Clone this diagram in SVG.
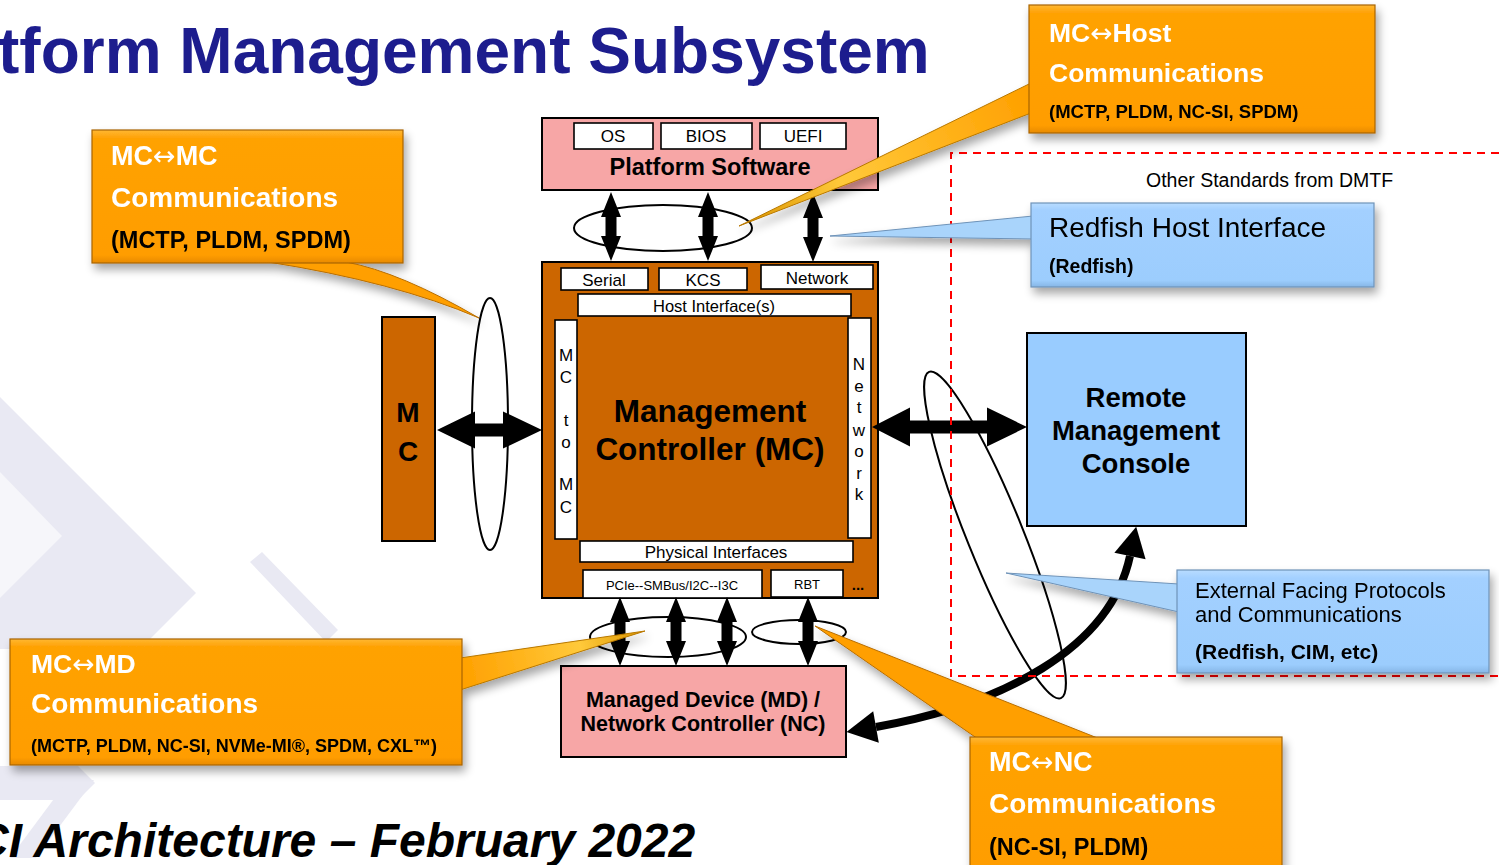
<svg xmlns="http://www.w3.org/2000/svg" width="1499" height="865" viewBox="0 0 1499 865">
  <defs>
    <style>
      text { font-family: "Liberation Sans", Arial, Helvetica, sans-serif; fill: #000; }
      .b { font-weight: bold; }
      .c { text-anchor: middle; }
      .edge { stroke: #000; stroke-width: 2; }
      .pink { fill: #f7a6a6; }
      .rust { fill: #cc6600; }
      .slot { fill: #fff; stroke: #000; stroke-width: 1.6; }
      .ring { fill: none; stroke: #000; stroke-width: 2; }
      .ringw { fill: #fff; stroke: #000; stroke-width: 2; }
      .arr { fill: #000; }
      .obox { fill: url(#orangeFill); stroke: #a86400; stroke-width: 1.2; }
      .otail { fill: #ff9f00; stroke: #b86e00; stroke-width: 1; }
      .bbox { fill: url(#blueFill); stroke: #6f93b8; stroke-width: 1.2; }
      .btail { fill: #a9d4fb; stroke: #6f93b8; stroke-width: 1; }
      .hw { fill: #fff; font-weight: bold; }
      .hk { font-weight: bold; }
      .thin { font-weight: normal; font-family: "DejaVu Sans", sans-serif; }
      .wm { fill: #e9e9f3; }
    </style>
    <linearGradient id="orangeFill" x1="0" y1="0" x2="0" y2="1">
      <stop offset="0" stop-color="#ffb833"/>
      <stop offset="0.06" stop-color="#ffa206"/>
      <stop offset="0.94" stop-color="#ff9d00"/>
      <stop offset="1" stop-color="#e88a00"/>
    </linearGradient>
    <linearGradient id="blueFill" x1="0" y1="0" x2="0" y2="1">
      <stop offset="0" stop-color="#b8dcff"/>
      <stop offset="0.08" stop-color="#a3d0ff"/>
      <stop offset="0.92" stop-color="#9ccdfd"/>
      <stop offset="1" stop-color="#86b6e6"/>
    </linearGradient>
    <linearGradient id="goldHost" gradientUnits="userSpaceOnUse" x1="740" y1="226" x2="1030" y2="98">
      <stop offset="0" stop-color="#d99400"/>
      <stop offset="0.35" stop-color="#ffc93a"/>
      <stop offset="1" stop-color="#ffa000"/>
    </linearGradient>
    <linearGradient id="goldMd" gradientUnits="userSpaceOnUse" x1="645" y1="631" x2="461" y2="674">
      <stop offset="0" stop-color="#d99400"/>
      <stop offset="0.35" stop-color="#ffc93a"/>
      <stop offset="1" stop-color="#ffa000"/>
    </linearGradient>
    <filter id="shadow" x="-15%" y="-15%" width="135%" height="150%">
      <feGaussianBlur in="SourceAlpha" stdDeviation="5"/>
      <feOffset dx="3" dy="6"/>
      <feComponentTransfer><feFuncA type="linear" slope="0.35"/></feComponentTransfer>
      <feMerge><feMergeNode/><feMergeNode in="SourceGraphic"/></feMerge>
    </filter>
    <!-- vertical two-headed arrow, top tip at origin -->
    <path id="vArrow" d="M0,0 L10,25 L5.5,25 L5.5,44 L10,44 L0,69 L-10,44 L-5.5,44 L-5.5,25 L-10,25 Z"/>
  </defs>

  <rect width="1499" height="865" fill="#fff"/>

  <!-- faint chevron watermark -->
  <g id="watermark">
    <polygon class="wm" points="0,397 196,593 140,649 0,649"/>
    <polygon fill="#f6f6fa" points="0,472 62,536 0,598"/>
    <polygon fill="#f6f6fa" points="0,505 30,537 0,569"/>
    <polygon class="wm" points="250,562 262,552 338,630 326,642"/>
    <polygon class="wm" points="0,766 78,766 95,783 78,800 0,800"/>
    <polygon class="wm" points="68,780 94,780 36,858 10,858"/>
  </g>

  <text id="title" x="-2" y="73" font-size="64" class="b" style="fill:#1d1d8e">tform Management Subsystem</text>

  <!-- Platform software -->
  <g id="platform-software">
    <rect x="542" y="118" width="336" height="72" class="pink edge"/>
    <rect x="574" y="123" width="79" height="26" class="slot"/>
    <rect x="661" y="123" width="91" height="26" class="slot"/>
    <rect x="760" y="123" width="86" height="26" class="slot"/>
    <text x="613" y="142" font-size="17" class="c">OS</text>
    <text x="706" y="142" font-size="17" class="c">BIOS</text>
    <text x="803" y="142" font-size="17" class="c">UEFI</text>
    <text x="710" y="175" font-size="23.5" class="b c">Platform Software</text>
  </g>

  <!-- Management controller -->
  <g id="management-controller">
    <rect x="542" y="262" width="336" height="336" class="rust edge"/>
    <rect x="561" y="268" width="87" height="22" class="slot"/>
    <rect x="659" y="268" width="88" height="22" class="slot"/>
    <rect x="761" y="265" width="112" height="24" class="slot"/>
    <text x="604" y="286" font-size="17" class="c">Serial</text>
    <text x="703" y="286" font-size="17" class="c">KCS</text>
    <text x="817" y="284" font-size="17" class="c">Network</text>
    <rect x="578" y="294" width="273" height="22" class="slot"/>
    <text x="714" y="312" font-size="16.5" class="c">Host Interface(s)</text>
    <rect x="555" y="320" width="22" height="219" class="slot"/>
    <g font-size="17">
      <text x="566" y="361" class="c">M</text>
      <text x="566" y="383" class="c">C</text>
      <text x="566" y="426" class="c">t</text>
      <text x="566" y="448" class="c">o</text>
      <text x="566" y="490" class="c">M</text>
      <text x="566" y="513" class="c">C</text>
    </g>
    <rect x="848" y="318" width="23" height="220" class="slot"/>
    <g font-size="17">
      <text x="859" y="370" class="c">N</text>
      <text x="859" y="392" class="c">e</text>
      <text x="859" y="413" class="c">t</text>
      <text x="859" y="436" class="c">w</text>
      <text x="859" y="457" class="c">o</text>
      <text x="859" y="479" class="c">r</text>
      <text x="859" y="500" class="c">k</text>
    </g>
    <text x="710" y="422" font-size="31.5" class="b c">Management</text>
    <text x="710" y="460" font-size="31.5" class="b c">Controller (MC)</text>
    <rect x="580" y="541" width="273" height="21" class="slot"/>
    <text x="716" y="558" font-size="17" class="c">Physical Interfaces</text>
    <rect x="583" y="570" width="179" height="28" class="slot"/>
    <rect x="771" y="570" width="72" height="27" class="slot"/>
    <text x="672" y="590" font-size="13" class="c">PCIe--SMBus/I2C--I3C</text>
    <text x="807" y="589" font-size="13" class="c">RBT</text>
    <text x="858" y="590" font-size="15" class="b c">...</text>
  </g>

  <!-- Peer management controller -->
  <g id="peer-mc">
    <rect x="382" y="317" width="53" height="224" class="rust edge"/>
    <text x="408" y="422" font-size="28" class="b c">M</text>
    <text x="408" y="461" font-size="28" class="b c">C</text>
  </g>

  <!-- Remote management console -->
  <g id="remote-console">
    <rect x="1027" y="333" width="219" height="193" fill="#99ccff" class="edge"/>
    <text x="1136" y="407" font-size="27.5" class="b c">Remote</text>
    <text x="1136" y="440" font-size="27.5" class="b c">Management</text>
    <text x="1136" y="473" font-size="27.5" class="b c">Console</text>
  </g>

  <!-- Managed device / network controller -->
  <g id="managed-device">
    <rect x="561" y="666" width="285" height="91" class="pink edge"/>
    <text x="703" y="707" font-size="21.5" class="b c">Managed Device (MD) /</text>
    <text x="703" y="731" font-size="21.5" class="b c">Network Controller (NC)</text>
  </g>

  <!-- Connectors -->
  <g id="connectors">
    <ellipse cx="663" cy="228" rx="89" ry="23" class="ringw"/>
    <use href="#vArrow" x="611" y="192" class="arr"/>
    <use href="#vArrow" x="708" y="192" class="arr"/>
    <use href="#vArrow" x="813" y="193" class="arr"/>

    <ellipse cx="490" cy="424" rx="18" ry="126" class="ringw"/>
    <path class="arr" d="M437,430 L475,411.5 L475,423.5 L503,423.5 L503,411.5 L542,430 L503,448.5 L503,436.5 L475,436.5 L475,448.5 Z"/>

    <ellipse cx="668" cy="637" rx="78" ry="20" class="ringw"/>
    <ellipse cx="799" cy="632" rx="47" ry="12" class="ringw"/>
    <use href="#vArrow" x="620" y="597" class="arr"/>
    <use href="#vArrow" x="676" y="597" class="arr"/>
    <use href="#vArrow" x="727" y="597" class="arr"/>
    <use href="#vArrow" x="808" y="597" class="arr"/>

    <path class="arr" d="M872,427 L910,407.5 L910,420.5 L987,420.5 L987,407.5 L1027,427 L987,446.5 L987,433.5 L910,433.5 L910,446.5 Z"/>
    <ellipse cx="995" cy="535" rx="28" ry="176" transform="rotate(-22 995 535)" class="ring" stroke-width="1.8"/>

    <path d="M876,727 C1000,705 1110,650 1130,556" fill="none" stroke="#000" stroke-width="8"/>
    <polygon class="arr" points="846.5,732 873.2,711.2 878.8,742.8"/>
    <polygon class="arr" points="1136.2,526.7 1145.6,559.3 1114.4,552.7"/>
  </g>

  <!-- DMTF standards region -->
  <g id="dmtf-region">
    <path d="M1499,153 H951 V676 H1499" fill="none" stroke="#ff0000" stroke-width="2" stroke-dasharray="8 6"/>
    <text x="1146" y="187" font-size="19.5">Other Standards from DMTF</text>
  </g>

  <!-- Callouts -->
  <g id="callout-mc-mc" filter="url(#shadow)">
    <path class="otail" d="M268,262 Q395,282 479,318 Q400,272 346,262 Z"/>
    <rect x="92" y="130" width="311" height="133" class="obox"/>
    <text x="111" y="165" font-size="27" class="hw">MC<tspan class="thin">↔</tspan>MC</text>
    <text x="111" y="207" font-size="28" class="hw">Communications</text>
    <text x="111" y="248" font-size="23.5" class="hk">(MCTP, PLDM, SPDM)</text>
  </g>

  <g id="callout-mc-host" filter="url(#shadow)">
    <polygon points="1031,83 739,226 1031,113" fill="url(#goldHost)" stroke="#b87800" stroke-width="1"/>
    <rect x="1029" y="5" width="346" height="128" class="obox"/>
    <text x="1049" y="42" font-size="26.5" class="hw">MC<tspan class="thin">↔</tspan>Host</text>
    <text x="1049" y="82" font-size="26.5" class="hw">Communications</text>
    <text x="1049" y="118" font-size="18.5" class="hk">(MCTP, PLDM, NC-SI, SPDM)</text>
  </g>

  <g id="callout-redfish-host" filter="url(#shadow)">
    <polygon class="btail" points="1033,216 830,236 1033,239"/>
    <rect x="1031" y="203" width="343" height="84" class="bbox"/>
    <text x="1049" y="237" font-size="28">Redfish Host Interface</text>
    <text x="1049" y="273" font-size="19.5" class="b">(Redfish)</text>
  </g>

  <g id="callout-external" filter="url(#shadow)">
    <polygon class="btail" points="1179,584 1006,573 1179,612"/>
    <rect x="1177" y="570" width="312" height="103" class="bbox"/>
    <text x="1195" y="598" font-size="22">External Facing Protocols</text>
    <text x="1195" y="622" font-size="22">and Communications</text>
    <text x="1195" y="659" font-size="21" class="b">(Redfish, CIM, etc)</text>
  </g>

  <g id="callout-mc-md" filter="url(#shadow)">
    <polygon points="460,658 645,631 460,690" fill="url(#goldMd)" stroke="#b87800" stroke-width="1"/>
    <rect x="10" y="639" width="452" height="126" class="obox"/>
    <text x="31" y="673" font-size="26.5" class="hw">MC<tspan class="thin">↔</tspan>MD</text>
    <text x="31" y="713" font-size="28" class="hw">Communications</text>
    <text x="31" y="752" font-size="18" class="hk">(MCTP, PLDM, NC-SI, NVMe-MI®, SPDM, CXL™)</text>
  </g>

  <g id="callout-mc-nc" filter="url(#shadow)">
    <polygon class="otail" points="1100,739 815,626 978,739"/>
    <rect x="970" y="737" width="312" height="140" class="obox"/>
    <text x="989" y="771" font-size="27" class="hw">MC<tspan class="thin">↔</tspan>NC</text>
    <text x="989" y="813" font-size="28" class="hw">Communications</text>
    <text x="989" y="855" font-size="23.5" class="hk">(NC-SI, PLDM)</text>
  </g>

  <text id="footer" x="-26" y="857" font-size="48" class="b" font-style="italic">CI Architecture – February 2022</text>
</svg>
